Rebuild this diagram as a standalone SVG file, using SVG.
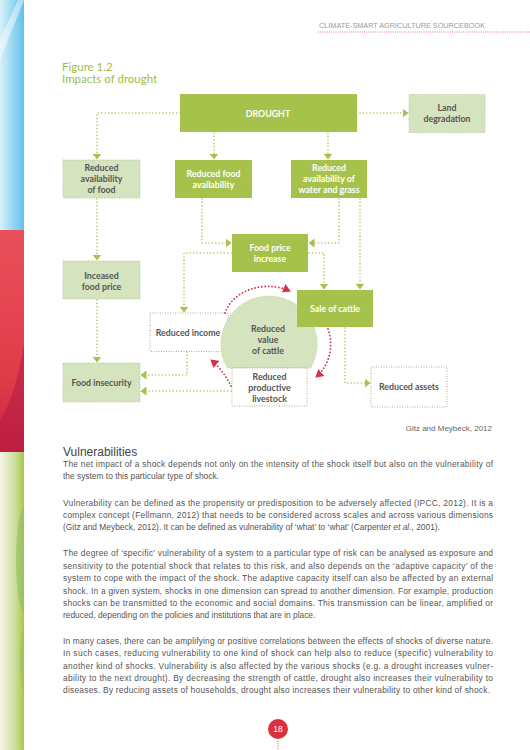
<svg xmlns="http://www.w3.org/2000/svg" width="530" height="750" viewBox="0 0 530 750">
<defs>
<linearGradient id="gBlue" x1="0" y1="0" x2="1" y2="0"><stop offset="0" stop-color="#d9f0fa"/><stop offset="1" stop-color="#5ec2ec"/></linearGradient>
<linearGradient id="gRed" x1="0" y1="0" x2="0" y2="1"><stop offset="0" stop-color="#e9505a"/><stop offset="0.7" stop-color="#df3a48"/><stop offset="1" stop-color="#c8203f"/></linearGradient>
<linearGradient id="gGreen" x1="0" y1="0" x2="1" y2="0"><stop offset="0" stop-color="#f6f4e6"/><stop offset="0.6" stop-color="#cfe0a0"/><stop offset="1" stop-color="#a8c84a"/></linearGradient>
<clipPath id="barClip"><rect x="0" y="0" width="24" height="750"/></clipPath>
<marker id="ah" viewBox="0 0 6 9" refX="5.5" refY="4.5" markerWidth="6" markerHeight="9" markerUnits="userSpaceOnUse" orient="auto"><path d="M0,0 L6,4.5 L0,9 z" fill="#a6c24a"/></marker>
<marker id="ahr" viewBox="0 0 8 9" refX="7" refY="4.5" markerWidth="8" markerHeight="9" markerUnits="userSpaceOnUse" orient="auto"><path d="M0,0 L8,4.5 L0,9 z" fill="#d8304a"/></marker>
</defs>
<style>
.dark{fill:#a6c24a}
.light{fill:#d6e3bf;stroke:#b3c98a;stroke-width:1;stroke-dasharray:1 1.5}
.white{fill:#ffffff;stroke:#b0ae86;stroke-width:1;stroke-dasharray:1 1.5}
.tw{font-family:Lato,"Liberation Sans",sans-serif;font-size:8.8px;font-weight:700;fill:#ffffff;text-anchor:middle}
.td{font-family:Lato,"Liberation Sans",sans-serif;font-size:8.8px;font-weight:700;fill:#555555;text-anchor:middle}
.con{fill:none;stroke:#a9c552;stroke-width:1.6;stroke-linecap:round;stroke-dasharray:0 3.4}
.red{fill:none;stroke:#c9304a;stroke-width:1.8;stroke-linecap:round;stroke-dasharray:0 3.4}
.body{font-family:"Liberation Sans",Arial,sans-serif;font-size:8.4px;fill:#555555}
</style>
<rect width="530" height="750" fill="#ffffff"/>
<!-- left colour bar -->
<g id="sidebar" clip-path="url(#barClip)">
<rect x="0" y="0" width="24" height="230" fill="url(#gBlue)"/>
<polygon points="24,0 18,0 0,40 0,60" fill="#ffffff" opacity="0.45"/>
<rect x="0" y="230" width="24" height="222" fill="url(#gRed)"/>
<path d="M0,420 Q14,400 24,345 L24,452 L0,452 z" fill="#b81c45" opacity="0.6"/>
<rect x="0" y="452" width="24" height="298" fill="url(#gGreen)"/>
<ellipse cx="26" cy="560" rx="10" ry="55" fill="#8fc060" opacity="0.6"/>
<ellipse cx="28" cy="660" rx="8" ry="40" fill="#8fc060" opacity="0.5"/>
</g>
<!-- header -->
<g id="header">
<text x="319" y="28" font-family="'Liberation Sans',Arial,sans-serif" font-size="7.5" fill="#9a9a9a" textLength="166" lengthAdjust="spacingAndGlyphs">CLIMATE-SMART AGRICULTURE SOURCEBOOK</text>
<line x1="318" y1="32" x2="530" y2="32" stroke="#d8304a" stroke-width="0.8" stroke-dasharray="0.8 1.4"/>
</g>
<g id="title">
<text x="62" y="71" font-family="Lato,'Liberation Sans',sans-serif" font-size="11.5" fill="#9fbd3f">Figure 1.2</text>
<text x="62" y="83" font-family="Lato,'Liberation Sans',sans-serif" font-size="11.5" fill="#9fbd3f">Impacts of drought</text>
</g>
<!-- connectors -->
<g id="connectors">
<path class="con" d="M180,113 H97 V159" marker-end="url(#ah)"/>
<path class="con" d="M214,133 V159" marker-end="url(#ah)"/>
<path class="con" d="M328,133 V159" marker-end="url(#ah)"/>
<path class="con" d="M360,113 H408" marker-end="url(#ah)"/>
<path class="con" d="M97,199 V260" marker-end="url(#ah)"/>
<path class="con" d="M97,300 V362" marker-end="url(#ah)"/>
<path class="con" d="M202,199 V243 H231" marker-end="url(#ah)"/>
<path class="con" d="M339,199 V243 H309" marker-end="url(#ah)"/>
<path class="con" d="M360,199 V289" marker-end="url(#ah)"/>
<path class="con" d="M309,253 H324 V289" marker-end="url(#ah)"/>
<path class="con" d="M231,253 H184 V312" marker-end="url(#ah)"/>
<path class="con" d="M187,352 V375 H141" marker-end="url(#ah)"/>
<path class="con" d="M231,391 H141" marker-end="url(#ah)"/>
<path class="con" d="M345,328 V383 H370" marker-end="url(#ah)"/>
</g>
<!-- nodes -->
<g id="drought"><rect class="dark" x="180" y="94" width="177" height="38"/><text class="tw" x="268" y="116.5">DROUGHT</text></g>
<g id="land-degradation"><rect class="light" x="409" y="94.5" width="76" height="38"/><text class="td" x="447" y="111">Land</text><text class="td" x="447" y="122">degradation</text></g>
<g id="reduced-availability-food"><rect class="light" x="63" y="160" width="77" height="38"/><text class="td" x="101.5" y="171">Reduced</text><text class="td" x="101.5" y="182">availability</text><text class="td" x="101.5" y="193">of food</text></g>
<g id="reduced-food-availability"><rect class="dark" x="175" y="160" width="77" height="38"/><text class="tw" x="213.5" y="177">Reduced food</text><text class="tw" x="213.5" y="188">availability</text></g>
<g id="reduced-water-grass"><rect class="dark" x="291" y="160" width="76" height="38"/><text class="tw" x="329" y="171">Reduced</text><text class="tw" x="329" y="182">availability of</text><text class="tw" x="329" y="193">water and grass</text></g>
<g id="inceased-food-price"><rect class="light" x="63" y="261" width="77" height="38"/><text class="td" x="101.5" y="279">Inceased</text><text class="td" x="101.5" y="290">food price</text></g>
<g id="food-price-increase"><rect class="dark" x="232" y="234" width="76" height="38"/><text class="tw" x="270" y="251">Food price</text><text class="tw" x="270" y="262">increase</text></g>
<g id="reduced-income"><rect class="white" x="150" y="313" width="78" height="38.5"/><text class="td" x="188" y="336">Reduced income</text></g>
<g id="reduced-value-cattle"><path d="M227.4,368 A48,48 0 1,1 310.6,368 Z" fill="#d6e3bf" stroke="#b3c98a" stroke-width="1" stroke-dasharray="1 1.5"/><text class="td" x="268" y="332">Reduced</text><text class="td" x="268" y="343">value</text><text class="td" x="268" y="354">of cattle</text></g>
<g id="sale-of-cattle"><rect class="dark" x="297" y="290" width="76" height="37"/><text class="tw" x="335" y="312">Sale of cattle</text></g>
<g id="reduced-productive-livestock"><rect class="white" x="232" y="368" width="75" height="38"/><text class="td" x="269.5" y="380">Reduced</text><text class="td" x="269.5" y="391">productive</text><text class="td" x="269.5" y="402">livestock</text></g>
<g id="food-insecurity"><rect class="light" x="63" y="363" width="77" height="39"/><text class="td" x="101.5" y="386">Food insecurity</text></g>
<g id="reduced-assets"><rect class="white" x="371" y="367" width="76" height="40"/><text class="td" x="409" y="390">Reduced assets</text></g>
<!-- red feedback loop -->
<g id="feedback-loop">
<path class="red" d="M225,313 C232,292 262,279 290,291" marker-end="url(#ahr)"/>
<path class="red" d="M328,329 C334,345 330,365 316,377" marker-end="url(#ahr)"/>
<path class="red" d="M231,386 C227,378 221,368 211,360" marker-end="url(#ahr)"/>
</g>
<text x="492" y="431" text-anchor="end" font-family="'Liberation Sans',Arial,sans-serif" font-size="8" fill="#666666">Gitz and Meybeck, 2012</text>
<!-- body text -->
<g id="body">
<text x="63" y="456" font-family="'Liberation Sans',Arial,sans-serif" font-size="12" fill="#444444">Vulnerabilities</text>
<text class="body" x="63" y="467" textLength="430" lengthAdjust="spacing">The net impact of a shock depends not only on the intensity of the shock itself but also on the vulnerability of</text>
<text class="body" x="63" y="479">the system to this particular type of shock.</text>
<text class="body" x="63" y="506" textLength="430" lengthAdjust="spacing">Vulnerability can be defined as the propensity or predisposition to be adversely affected (IPCC, 2012). It is a</text>
<text class="body" x="63" y="518" textLength="430" lengthAdjust="spacing">complex concept (Fellmann, 2012) that needs to be considered across scales and across various dimensions</text>
<text class="body" x="63" y="530">(Gitz and Meybeck, 2012). It can be defined as vulnerability of ‘what’ to ‘what’ (Carpenter <tspan font-style="italic">et al.</tspan>, 2001).</text>
<text class="body" x="63" y="556" textLength="430" lengthAdjust="spacing">The degree of ‘specific’ vulnerability of a system to a particular type of risk can be analysed as exposure and</text>
<text class="body" x="63" y="568.5" textLength="430" lengthAdjust="spacing">sensitivity to the potential shock that relates to this risk, and also depends on the ‘adaptive capacity’ of the</text>
<text class="body" x="63" y="581" textLength="430" lengthAdjust="spacing">system to cope with the impact of the shock. The adaptive capacity itself can also be affected by an external</text>
<text class="body" x="63" y="593.5" textLength="430" lengthAdjust="spacing">shock. In a given system, shocks in one dimension can spread to another dimension. For example, production</text>
<text class="body" x="63" y="606" textLength="430" lengthAdjust="spacing">shocks can be transmitted to the economic and social domains. This transmission can be linear, amplified or</text>
<text class="body" x="63" y="618">reduced, depending on the policies and institutions that are in place.</text>
<text class="body" x="63" y="644" textLength="430" lengthAdjust="spacing">In many cases, there can be amplifying or positive correlations between the effects of shocks of diverse nature.</text>
<text class="body" x="63" y="656" textLength="430" lengthAdjust="spacing">In such cases, reducing vulnerability to one kind of shock can help also to reduce (specific) vulnerability to</text>
<text class="body" x="63" y="668.5" textLength="430" lengthAdjust="spacing">another kind of shocks. Vulnerability is also affected by the various shocks (e.g. a drought increases vulner-</text>
<text class="body" x="63" y="681" textLength="430" lengthAdjust="spacing">ability to the next drought). By decreasing the strength of cattle, drought also increases their vulnerability to</text>
<text class="body" x="63" y="693" textLength="427" lengthAdjust="spacing">diseases. By reducing assets of households, drought also increases their vulnerability to other kind of shock.</text>
</g>
<g id="page-number">
<circle cx="278" cy="729" r="10" fill="#d9313e"/>
<text x="278" y="732" text-anchor="middle" font-family="'Liberation Sans',Arial,sans-serif" font-size="8.5" fill="#ffffff">18</text>
<line x1="278" y1="741" x2="278" y2="750" stroke="#d9313e" stroke-width="0.9" stroke-dasharray="0.9 1.4"/>
</g>
</svg>
